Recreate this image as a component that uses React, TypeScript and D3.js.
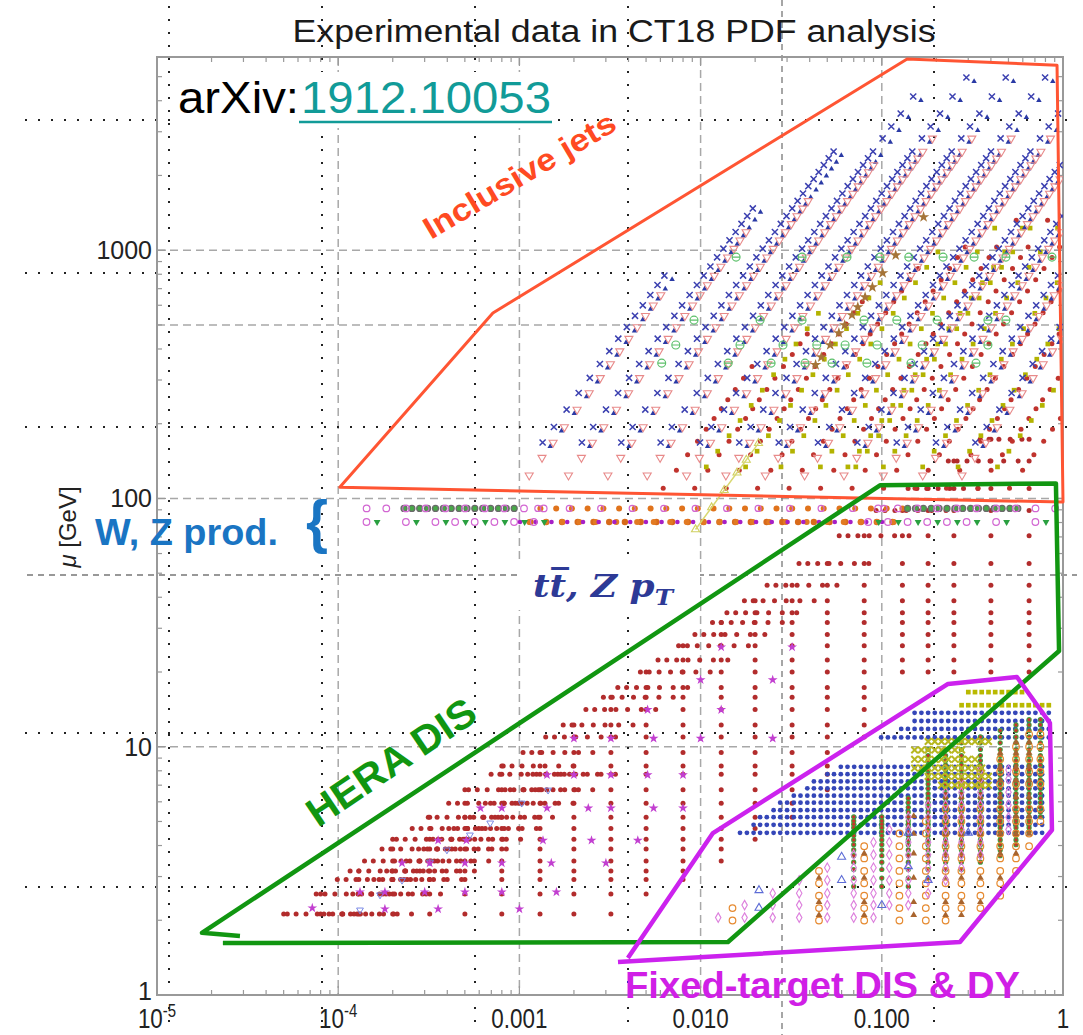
import React from 'react';
import * as d3 from 'd3';

type Pt = [number, number];

// ---- axes ----
const xTickValues = [1e-5, 1e-4, 1e-3, 1e-2, 1e-1, 1];
const xTickText = ['10', '10', '0.001', '0.010', '0.100', '1'];
const xTickPower = ['-5', '-4', '', '', '', ''];
const yTickValues = [1, 10, 100, 1000];
const yTickText = ['1', '10', '100', '1000'];
const xGridValues = [1e-4, 1e-3, 1e-2, 1e-1];
const yGridValues = [10, 100, 500, 1000];

// ---- region outlines drawn over the plot (x, mu) ----
const jetsOutline: Pt[] = [[1.02e-4, 111], [7.14e-4, 558], [0.138, 5890], [0.927, 5560], [1.0, 96.7]];
const heraOutline: Pt[] = [[2.87e-5, 1.73], [1.77e-5, 1.78], [0.0977, 113], [0.914, 115], [0.951, 24.3], [0.01416, 1.635], [2.31e-5, 1.62]];
const fixedTargetOutline: Pt[] = [[3.5e-3, 1.358], [0.27, 1.635], [0.869, 4.62], [0.847, 12.46], [0.557, 19.1], [0.232, 17.9], [0.0117, 4.49], [3.97e-3, 1.41]];

// ---- inclusive jets: mu = 2 pT, x = mu exp(+-y) / sqrt(s) ----
const jetRap = [0.25, 0.75, 1.25, 1.75, 2.25, 2.75];
const cms8Mu = [168, 194, 228, 266, 306, 348, 392, 440, 490, 544, 600, 660, 724, 790, 860, 936, 1014, 1096, 1184, 1276, 1372, 1474, 1580, 1692, 1810, 1934, 2064, 2202, 2344, 2496, 2820, 3150, 3550, 4160, 4960];
const cms8MuMax = [4960, 4960, 4160, 2700, 1520, 850];
const cms7Mu = [124, 146, 168, 194, 228, 266, 306, 348, 392, 440, 490, 544, 600, 660, 724, 790, 860, 936, 1014, 1096, 1184, 1276, 1372, 1474, 1580, 1692, 1810, 1934, 2064, 2202, 2344, 2496, 2820];
const cms7MuMax = [2820, 2820, 2300, 1680, 1200, 665];
const atlas7Mu = [162, 187, 220, 257, 295, 336, 378, 425, 473, 525, 579, 637, 699, 762, 830, 903, 978, 1058, 1142, 1231, 1324, 1422, 1525, 1633, 1747, 1866, 1992, 2125, 2262, 2409, 2722, 3040, 3426, 4014, 4786];
const atlas7MuMax = [4786, 4786, 4014, 2600, 1460, 820];
const d0Rap = [0.2, 0.6, 1.0, 1.4, 1.8, 2.2];
const d0Mu = [110, 130, 150, 170, 190, 210, 230, 250, 275, 305, 340, 380, 420, 460, 505, 560, 620, 685, 760, 845, 935, 1030, 1320];
const d0MuMax = [1320, 1030, 845, 620, 460, 340];
const cdfRap = [0.05, 0.4, 0.9, 1.35, 1.85];
const cdfMu = [134, 155, 179, 206, 237, 273, 315, 364, 419, 483, 557, 642, 740, 853, 984, 1227];
const cdfMuMax = [1227, 1227, 984, 740, 557];

// top-quark pairs / Z pT
const ttRowMu = [938, 523, 415, 351];
const ttRowX = [
  [0.0157, 0.0363, 0.0643, 0.0977, 0.141, 0.218, 0.323, 0.484, 0.869],
  [0.0092, 0.0213, 0.0363, 0.0798, 0.121, 0.202, 0.385, 0.484],
  [0.0073, 0.0165, 0.0285, 0.0438, 0.0627, 0.0942, 0.167, 0.385],
  [0.0061, 0.0142, 0.0245, 0.0377, 0.0531, 0.0828, 0.145, 0.331],
];
const ttbarMu = [345, 371, 415, 464, 499, 548, 590, 647, 710, 809, 955, 1360];
const zptMu = [75, 92, 108, 127, 143, 167];

// ---- W, Z production ----
const mZ = 91.19;
const mW = 80.4;
const zCentralRap = [0.1, 0.3, 0.5, 0.7, 0.9, 1.1, 1.3, 1.5, 1.7, 1.9, 2.1, 2.3];
const zCms8Rap = [0.2, 0.6, 1.0, 1.4, 1.8, 2.2];
const zLhcbRap = [2.5, 2.6, 2.7, 2.8, 2.9, 3.0, 3.1, 3.2, 3.3, 3.4, 3.5, 3.6, 3.7, 3.8, 3.9];
const zLhcbEeRap = [2.125, 2.375, 2.625, 2.875, 3.125, 3.375, 3.625, 3.875, 4.125, 4.375];
const wLhcbEta = [2.125, 2.375, 2.625, 2.875, 3.125, 3.375, 3.75, 4.25];
const wAtlasEta = [0.105, 0.315, 0.525, 0.735, 0.945, 1.21, 1.47, 1.68, 1.895, 2.105, 2.315];
const wCmsEta = [0.1, 0.3, 0.5, 0.7, 0.9, 1.1, 1.3, 1.5, 1.7, 1.9, 2.1, 2.3];

// ---- HERA DIS ----
const heraQ2 = [4.5, 6.5, 8.5, 10, 12, 15, 18, 22, 27, 35, 45, 60, 70, 90, 120, 150, 200, 250, 300, 400, 500, 650, 800, 1000, 1200, 1500, 2000, 3000, 5000, 8000, 12000, 20000, 30000];
const heraXmax = [3.2e-3, 5e-3, 8e-3, 8e-3, 0.013, 0.013, 0.02, 0.02, 0.032, 0.032, 0.05, 0.05, 0.05, 0.05, 0.08, 0.08, 0.08, 0.08, 0.08, 0.65, 0.65, 0.65, 0.65, 0.65, 0.65, 0.65, 0.65, 0.65, 0.65, 0.65, 0.65, 0.65, 0.65];
const heraX = [5e-5, 8e-5, 1.3e-4, 2e-4, 3.2e-4, 5e-4, 8e-4, 1.3e-3, 2e-3, 3.2e-3, 5e-3, 8e-3, 0.013, 0.02, 0.032, 0.05, 0.08, 0.13, 0.18, 0.25, 0.4, 0.65];
const heraInelasticity = [0.85, 0.76, 0.67, 0.58, 0.5, 0.42, 0.35];
const heraRootS = [318, 252, 225];
const heraStars: Pt[] = [
  [7.2e-5, 2.24], [1.32e-4, 2.6], [1.81e-4, 2.6], [1.81e-4, 2.22], [3.0e-4, 2.6], [3.56e-4, 2.22], [5.0e-4, 2.6], [8.0e-4, 2.6], [1.0e-3, 2.22], [1.6e-3, 2.6],
  [2.25e-4, 3.4], [3.2e-4, 3.4], [5.0e-4, 3.4], [8.0e-4, 3.4], [1.5e-3, 3.4], [3.0e-3, 3.4], [3.56e-4, 4.2], [5.1e-4, 4.2], [1.35e-3, 4.2], [2.5e-3, 4.2], [4.5e-3, 4.2],
  [6.1e-4, 5.66], [8.0e-4, 5.66], [1.42e-3, 5.66], [2.4e-3, 5.66], [3.2e-3, 5.66], [5.5e-3, 5.66], [8.0e-3, 5.66], [1.42e-3, 7.7], [2.0e-3, 7.7], [3.2e-3, 7.7],
  [5.1e-3, 7.7], [8.0e-3, 7.7], [2.0e-3, 10.8], [3.2e-3, 10.8], [5.5e-3, 10.8], [0.01, 10.8], [0.025, 10.8], [5.1e-3, 14.1], [0.013, 14.1], [0.01, 18.6], [0.025, 18.6],
  [0.013, 25.2], [0.032, 25.2],
];
const heraCharm: Pt[] = [[1.32e-4, 2.2], [1.7e-4, 2.53], [2.25e-4, 2.9], [3.21e-4, 3.43], [3.98e-4, 3.84], [5.33e-4, 4.41], [6.9e-4, 4.93], [1.03e-3, 5.93], [1.44e-3, 6.69]];

// ---- fixed-target DIS and Drell-Yan ----
const bcdmsX = [0.07, 0.1, 0.14, 0.18, 0.225, 0.275, 0.35, 0.45, 0.55, 0.65, 0.75];
const bcdmsQ2 = [7.5, 8.75, 10.25, 11.75, 13.25, 14.75, 16.25, 17.75, 19.25, 20.75, 22.25, 23.75, 25.25, 27.25, 29.75, 32.5, 35.5, 38.5, 42, 46, 50, 54.5, 59.5, 65, 71, 77.5, 85, 95, 107.5, 120, 135, 150, 165];
const bcdmsQ2Lo = [7.5, 7.5, 7.5, 8.75, 10.25, 10.25, 11.75, 13.25, 16.25, 20.75, 27.25];
const bcdmsQ2Hi = [27.25, 27.25, 38.5, 95, 95, 107.5, 120, 135, 150, 165, 165];
const ccfrX = [0.015, 0.045, 0.08, 0.125, 0.175, 0.225, 0.275, 0.35, 0.45, 0.55, 0.65, 0.75];
const ccfrQ2 = [3.98, 5.01, 6.31, 7.94, 10, 12.6, 15.8, 20, 25.1, 31.6, 50.1, 63.1, 79.4, 100, 125.9];
const ccfrQ2Lo = [3.98, 3.98, 3.98, 3.98, 3.98, 3.98, 5.01, 5.01, 6.31, 10, 15.8, 25.1];
const ccfrQ2Hi = [5.01, 10, 15.8, 20, 25.1, 31.6, 50.1, 63.1, 79.4, 100, 125.9, 125.9];
const cdhswX = [0.045, 0.08, 0.15, 0.225, 0.275, 0.35, 0.45, 0.55, 0.65];
const cdhswQ2 = [4.4, 5.6, 8.8, 13.8, 19.9, 27.6, 39.4, 53.6, 68.5, 89.3, 109];
const cdhswQ2Lo = [4.4, 4.4, 4.4, 4.4, 4.4, 5.6, 8.8, 13.8, 19.9];
const cdhswQ2Hi = [8.8, 13.8, 27.6, 39.4, 53.6, 68.5, 89.3, 109, 109];
const nmcX = [0.0125, 0.0175, 0.025, 0.035, 0.05, 0.07, 0.09, 0.11, 0.14, 0.18, 0.225, 0.275, 0.35, 0.5];
const nmcQ2 = [4.2, 5.3, 6.6, 8.4, 10.6, 13.5, 17, 21.5, 27, 34, 43, 55, 65];
const nmcQ2Lo = [4.2, 4.2, 4.2, 4.2, 4.2, 4.2, 4.2, 5.3, 5.3, 6.6, 8.4, 10.6, 13.5, 21.5];
const nmcQ2Hi = [4.2, 5.3, 6.6, 8.4, 10.6, 13.5, 17, 21.5, 27, 34, 43, 55, 65, 65];
const dimuonPts: Pt[] = [[0.021, 2.64], [0.021, 2.24], [0.06, 2.9], [0.06, 3.6], [0.1, 2.3], [0.14, 3.3], [0.14, 4.5], [0.18, 2.9], [0.3, 4.5]];
const dyX = [0.0165, 0.018, 0.0196, 0.0213, 0.0232, 0.0253, 0.0275, 0.03, 0.0327, 0.0356, 0.0388, 0.0422, 0.046, 0.0501, 0.0545, 0.0594, 0.0647, 0.0704, 0.0767, 0.0835, 0.091, 0.0991, 0.108, 0.1175, 0.128, 0.1394, 0.1518, 0.1653, 0.18, 0.196, 0.2135, 0.2325, 0.2532, 0.2757, 0.3003, 0.327, 0.3561, 0.3878, 0.4223, 0.4599, 0.5008, 0.5454, 0.594, 0.6468, 0.7044, 0.7671, 0.8354];
const dyMu = [4.5, 4.85, 5.2, 5.55, 5.95, 6.35, 6.8, 7.25, 7.75, 8.3, 10.9, 11.8, 12.7, 13.7];
const dyXlo = [0.0165, 0.0185, 0.0205, 0.0235, 0.027, 0.031, 0.036, 0.042, 0.049, 0.057, 0.098, 0.126, 0.149, 0.149];
const dyXhi = [0.8, 0.8, 0.82, 0.82, 0.82, 0.82, 0.82, 0.82, 0.82, 0.82, 0.85, 0.85, 0.85, 0.85];
const ratioMu = [14.7, 16.6];
const ratioXlo = [0.26, 0.28];
const ratioXhi = [0.92, 0.62];
const e866Mu = [7.0, 7.6, 8.2, 8.9, 9.7, 10.5];
const e866Xlo = [0.2, 0.17, 0.15, 0.14, 0.14, 0.18];
const e866Xhi = [0.4, 0.4, 0.36, 0.33, 0.3, 0.4];

// ---- point builders ----
const kin = (mu: number, rap: number, rootS: number) => (mu * Math.exp(rap)) / rootS;

function trackPoints(mus: number[], muMax: number[], raps: number[], rootS: number): Pt[] {
  const out: Pt[] = [];
  raps.forEach((r, i) =>
    mus.forEach(m => {
      if (m > muMax[i]) return;
      out.push([kin(m, -r, rootS), m], [kin(m, r, rootS), m]);
    })
  );
  return out;
}

function rowPoints(mu: number, raps: number[], rootS: number): Pt[] {
  const out: Pt[] = [];
  raps.forEach(r => out.push([kin(mu, -r, rootS), mu], [kin(mu, r, rootS), mu]));
  return out;
}

function columnPoints(xs: number[], q2s: number[], lo: number[], hi: number[]): Pt[] {
  const out: Pt[] = [];
  xs.forEach((xv, i) => q2s.forEach(q2 => { if (q2 >= lo[i] && q2 <= hi[i]) out.push([xv, Math.sqrt(q2)]); }));
  return out;
}

function gridRows(mus: number[], xs: number[], lo: number[], hi: number[]): Pt[] {
  const out: Pt[] = [];
  mus.forEach((m, i) => xs.forEach(xv => { if (xv >= lo[i] && xv <= hi[i]) out.push([xv, m]); }));
  return out;
}

function heraPoints(): Pt[] {
  const out: Pt[] = [];
  heraQ2.forEach((q2, i) => {
    const mu = Math.sqrt(q2);
    const xLow = q2 / (heraRootS[0] * heraRootS[0] * 0.9);
    heraX.forEach(xv => { if (xv >= xLow && xv <= heraXmax[i]) out.push([xv, mu]); });
    heraRootS.forEach((rs, k) => {
      if (k > 0 && q2 > 60) return;
      heraInelasticity.forEach(yy => {
        const xv = q2 / (rs * rs * yy);
        if (xv <= heraXmax[i]) out.push([xv, mu]);
      });
    });
  });
  return out;
}

// ---- markers ----
const mk = {
  times: d3.symbol(d3.symbolTimes, 26)() as string,
  cross: d3.symbol(d3.symbolTimes, 30)() as string,
  tri: d3.symbol(d3.symbolTriangle, 28)() as string,
  triSmall: d3.symbol(d3.symbolTriangle, 13)() as string,
  triFt: d3.symbol(d3.symbolTriangle, 20)() as string,
  square: d3.symbol(d3.symbolSquare, 22)() as string,
  diamond: d3.symbol(d3.symbolDiamond, 26)() as string,
  star: d3.symbol(d3.symbolStar, 40)() as string,
  starSmall: d3.symbol(d3.symbolStar, 30)() as string,
  theta: 'M-4,0a4,4 0 1,0 8,0a4,4 0 1,0 -8,0M-4,0h8',
};

type Style = { d?: string; r?: number; fill?: string; stroke?: string; sw?: number; flip?: boolean };

function Layer({ pts, sx, sy, st }: { pts: Pt[]; sx: (v: number) => number; sy: (v: number) => number; st: Style }) {
  return (
    <g fill={st.fill ?? 'none'} stroke={st.stroke ?? 'none'} strokeWidth={st.sw ?? 1}>
      {pts.map((p, i) => {
        if (!(p[0] > 1e-5 && p[0] < 0.99)) return null;
        const cx = sx(p[0]);
        const cy = sy(p[1]);
        if (st.r) return <circle key={i} cx={cx.toFixed(1)} cy={cy.toFixed(1)} r={st.r} />;
        return <path key={i} d={st.d} transform={`translate(${cx.toFixed(1)},${cy.toFixed(1)})${st.flip ? ' rotate(180)' : ''}`} />;
      })}
    </g>
  );
}

const App = () => {
  const X0 = 157, X1 = 1063, Y0 = 995, Y1 = 57;
  const x = d3.scaleLog().domain([1e-5, 1]).range([X0, X1]);
  const y = d3.scaleLog().domain([1, 6000]).range([Y0, Y1]);
  const line = d3.line<Pt>().x(d => x(d[0])).y(d => y(d[1]));

  const minorX: number[] = [];
  [1e-5, 1e-4, 1e-3, 1e-2, 1e-1].forEach(d => { for (let k = 2; k <= 9; k++) minorX.push(d * k); });
  const minorY: number[] = [];
  [1, 10, 100, 1000].forEach(d => { for (let k = 2; k <= 9; k++) if (d * k < 6000) minorY.push(d * k); });

  const guideX = [169, 322, 475, 628, 934];
  const guideY = [120, 273, 427, 733, 887];

  const wz: { pts: Pt[]; st: Style }[] = [
    { pts: rowPoints(mZ, zCentralRap, 7000), st: { r: 3, fill: '#e0731c' } },
    { pts: rowPoints(mZ, zCms8Rap, 8000), st: { r: 3, stroke: '#d266d2', sw: 1.2 } },
    { pts: rowPoints(mZ, zLhcbRap, 8000), st: { r: 3, fill: '#48a848', stroke: '#6a6a6a', sw: 1.2 } },
    { pts: rowPoints(mZ, zLhcbEeRap, 8000), st: { r: 3.3, stroke: '#d266d2', sw: 1.2 } },
    { pts: rowPoints(mW, wCmsEta, 7000), st: { r: 3.2, fill: '#d86a1a' } },
    { pts: rowPoints(mW, wAtlasEta, 7000), st: { r: 3, fill: '#e27a22' } },
    { pts: rowPoints(mW, wCmsEta, 8000), st: { r: 2.3, fill: '#a61fc6' } },
    { pts: rowPoints(mW, wLhcbEta, 8000), st: { r: 3.3, stroke: '#d266d2', sw: 1.2 } },
    { pts: rowPoints(mW, wLhcbEta, 7000), st: { d: mk.triFt, fill: '#2aa040', flip: true } },
  ];

  const ttPts: Pt[] = [];
  ttRowMu.forEach((m, i) => ttRowX[i].forEach(xv => ttPts.push([xv, m])));

  const layers: { pts: Pt[]; st: Style }[] = [
    { pts: heraPoints(), st: { r: 2.5, fill: '#b22c2c' } },
    { pts: heraCharm, st: { d: mk.triFt, stroke: '#7a8ae6', sw: 1, flip: true } },
    { pts: heraStars, st: { d: mk.starSmall, fill: '#c23fd0' } },
    { pts: trackPoints(d0Mu, d0MuMax, d0Rap, 1960), st: { r: 2.5, fill: '#c0332d' } },
    { pts: trackPoints(cdfMu, cdfMuMax, cdfRap, 1960), st: { d: mk.square, fill: '#b3b300' } },
    { pts: trackPoints(atlas7Mu, atlas7MuMax, jetRap, 7000), st: { d: mk.triSmall, fill: '#2a3aa5' } },
    { pts: trackPoints(cms7Mu, cms7MuMax, jetRap, 7000), st: { d: mk.tri, stroke: '#e88a8a', sw: 1.1, flip: true } },
    { pts: trackPoints(cms8Mu, cms8MuMax, jetRap, 8000), st: { d: mk.times, stroke: '#3b40b0', sw: 1.5 } },
    { pts: ttPts, st: { d: mk.theta, stroke: '#5cc06a', sw: 1.1 } },
    { pts: ttbarMu.map(m => [kin(m, 0, 8000), m] as Pt), st: { d: mk.star, fill: '#a57438' } },
    { pts: zptMu.map(m => [kin(m, 0, 8000), m] as Pt), st: { d: mk.tri, stroke: '#d0d060', sw: 1.1 } },
    ...wz,
    { pts: gridRows(dyMu, dyX, dyXlo, dyXhi), st: { r: 2.4, fill: '#3446b8' } },
    { pts: columnPoints(bcdmsX, bcdmsQ2, bcdmsQ2Lo, bcdmsQ2Hi), st: { r: 2.6, fill: '#3ea23e' } },
    { pts: columnPoints(bcdmsX, bcdmsQ2, bcdmsQ2Lo, bcdmsQ2Hi), st: { r: 1.6, fill: '#c8342a' } },
    { pts: columnPoints(ccfrX, ccfrQ2, ccfrQ2Lo, ccfrQ2Hi), st: { r: 3.3, stroke: '#e68a30', sw: 1.2 } },
    { pts: columnPoints(cdhswX, cdhswQ2, cdhswQ2Lo, cdhswQ2Hi), st: { d: mk.triFt, fill: '#a8642e' } },
    { pts: columnPoints(nmcX, nmcQ2, nmcQ2Lo, nmcQ2Hi), st: { d: mk.diamond, stroke: '#dd80dd', sw: 1.1 } },
    { pts: dimuonPts, st: { d: mk.tri, stroke: '#5d6cd6', sw: 1.1 } },
    { pts: gridRows(ratioMu, dyX, ratioXlo, ratioXhi), st: { d: mk.square, fill: '#b9b900' } },
    { pts: gridRows(e866Mu, dyX, e866Xlo, e866Xhi), st: { d: mk.cross, stroke: '#b8b820', sw: 2 } },
  ];

  const font = 'Liberation Sans, Arial, Helvetica, sans-serif';
  const poly = (pts: Pt[], closed: boolean) => (line(pts) ?? '') + (closed ? 'Z' : '');

  return (
    <svg width={1083} height={1035} style={{ position: 'absolute', left: 0, top: 0, background: '#fff' }} fontFamily={font}>
      <defs>
        <clipPath id="frame">
          <rect x={X0} y={Y1} width={X1 - X0} height={Y0 - Y1} />
        </clipPath>
      </defs>
      <rect width={1083} height={1035} fill="#fff" />

      {/* plot grid */}
      <g stroke="#a8a8a8" strokeWidth={1.5} strokeDasharray="8,5">
        {xGridValues.map(v => <line key={v} x1={x(v)} x2={x(v)} y1={Y1} y2={Y0} />)}
        {yGridValues.map(v => <line key={v} x1={X0} x2={X1} y1={y(v)} y2={y(v)} />)}
      </g>

      {/* slide guides */}
      <g stroke="#222" strokeWidth={2} strokeDasharray="2,11" strokeLinecap="butt">
        {guideX.map(g => <line key={g} x1={g} x2={g} y1={6} y2={1030} />)}
        {guideY.map(g => <line key={g} x1={25} x2={1078} y1={g} y2={g} />)}
      </g>
      <g stroke="#777" strokeWidth={1.3} strokeDasharray="6,5">
        <line x1={782} x2={782} y1={0} y2={1035} />
        <line x1={27} x2={1077} y1={575} y2={575} />
      </g>

      {/* frame and ticks */}
      <g stroke="#999" strokeWidth={1.2}>
        {xTickValues.map(v => (
          <g key={v}>
            <line x1={x(v)} x2={x(v)} y1={Y0} y2={Y0 - 9} />
            <line x1={x(v)} x2={x(v)} y1={Y1} y2={Y1 + 9} />
          </g>
        ))}
        {minorX.map(v => (
          <g key={v}>
            <line x1={x(v)} x2={x(v)} y1={Y0} y2={Y0 - 5} />
            <line x1={x(v)} x2={x(v)} y1={Y1} y2={Y1 + 5} />
          </g>
        ))}
        {yTickValues.map(v => (
          <g key={v}>
            <line x1={X0} x2={X0 + 9} y1={y(v)} y2={y(v)} />
            <line x1={X1} x2={X1 - 9} y1={y(v)} y2={y(v)} />
          </g>
        ))}
        {minorY.map(v => (
          <g key={v}>
            <line x1={X0} x2={X0 + 5} y1={y(v)} y2={y(v)} />
            <line x1={X1} x2={X1 - 5} y1={y(v)} y2={y(v)} />
          </g>
        ))}
      </g>
      <rect x={X0} y={Y1} width={X1 - X0} height={Y0 - Y1} fill="none" stroke="#999" strokeWidth={2} />

      {/* label backgrounds on the slide */}
      <rect x={518} y={560} width={182} height={50} fill="#fff" />
      <rect x={175} y={72} width={382} height={56} fill="#fff" />

      {/* data */}
      <g clipPath="url(#frame)">
        {layers.map((l, i) => <Layer key={i} pts={l.pts} sx={x} sy={y} st={l.st} />)}
        <path d={line(zptMu.map(m => [kin(m, 0, 8000), m] as Pt)) ?? ''} fill="none" stroke="#d8d870" strokeWidth={1.5} />
      </g>

      {/* tick labels */}
      {xTickValues.map((v, i) => (
        <g key={v} transform={`translate(${x(v)},1028) scale(0.83,1)`}>
          <text x={0} y={0} textAnchor="middle" fontSize={27} fill="#222">
            {xTickText[i]}
            {xTickPower[i] && <tspan dy={-11} fontSize={18}>{xTickPower[i]}</tspan>}
          </text>
        </g>
      ))}
      {yTickValues.map((v, i) => (
        <text key={v} x={152} y={y(v) + (v === 1 ? 5 : 9)} textAnchor="end" fontSize={25} fill="#222">{yTickText[i]}</text>
      ))}
      <text transform="translate(76,527) rotate(-90)" textAnchor="middle" fontSize={24} fill="#222">
        <tspan fontStyle="italic">μ</tspan> [GeV]
      </text>

      {/* title */}
      <text x={614} y={42} textAnchor="middle" fontSize={31} fill="#1a1a1a" textLength={643} lengthAdjust="spacingAndGlyphs">
        Experimental data in CT18 PDF analysis
      </text>

      {/* region outlines */}
      <path d={poly(jetsOutline, true)} fill="none" stroke="#ff5533" strokeWidth={3} strokeLinejoin="round" />
      <path d={poly(heraOutline, false)} fill="none" stroke="#119611" strokeWidth={4.5} strokeLinejoin="round" />
      <path d={poly(fixedTargetOutline, false)} fill="none" stroke="#cc22ee" strokeWidth={4.5} strokeLinejoin="round" />

      {/* annotations */}
      <text x={178} y={113} fontSize={44} fill="#000" textLength={121} lengthAdjust="spacingAndGlyphs">arXiv:</text>
      <text x={301} y={113} fontSize={44} fill="#119b98" textLength={250} lengthAdjust="spacingAndGlyphs">1912.10053</text>
      <line x1={299} x2={552} y1={122} y2={122} stroke="#119b98" strokeWidth={2.5} />

      <g transform="translate(431,240) rotate(-30.6)">
        <text x={0} y={0} fontSize={31} fontWeight="bold" fill="#ff4a22" textLength={218} lengthAdjust="spacingAndGlyphs">Inclusive jets</text>
      </g>
      <g transform="translate(318,828) rotate(-34)">
        <text x={0} y={0} fontSize={40} fontWeight="bold" fill="#119611" textLength={195} lengthAdjust="spacingAndGlyphs">HERA DIS</text>
      </g>
      <text x={95} y={545} fontSize={36} fontWeight="bold" fill="#1a75c3" textLength={183} lengthAdjust="spacingAndGlyphs">W, Z prod.</text>
      <text x={306} y={542} fontSize={60} fontWeight="bold" fill="#1a75c3" textLength={22} lengthAdjust="spacingAndGlyphs">{'{'}</text>

      <text x={533} y={597} fontFamily="DejaVu Serif, Liberation Serif, serif" fontStyle="italic" fontWeight="bold" fontSize={32} fill="#2d3a96" textLength={140} lengthAdjust="spacingAndGlyphs">
        t{'t\u0305'}, Z p<tspan dy={8} fontSize={22}>T</tspan>
      </text>

      <text x={625} y={998} fontSize={37} fontWeight="bold" fill="#d01fe6" textLength={395} lengthAdjust="spacingAndGlyphs">Fixed-target DIS &amp; DY</text>
    </svg>
  );
};

export default App;
